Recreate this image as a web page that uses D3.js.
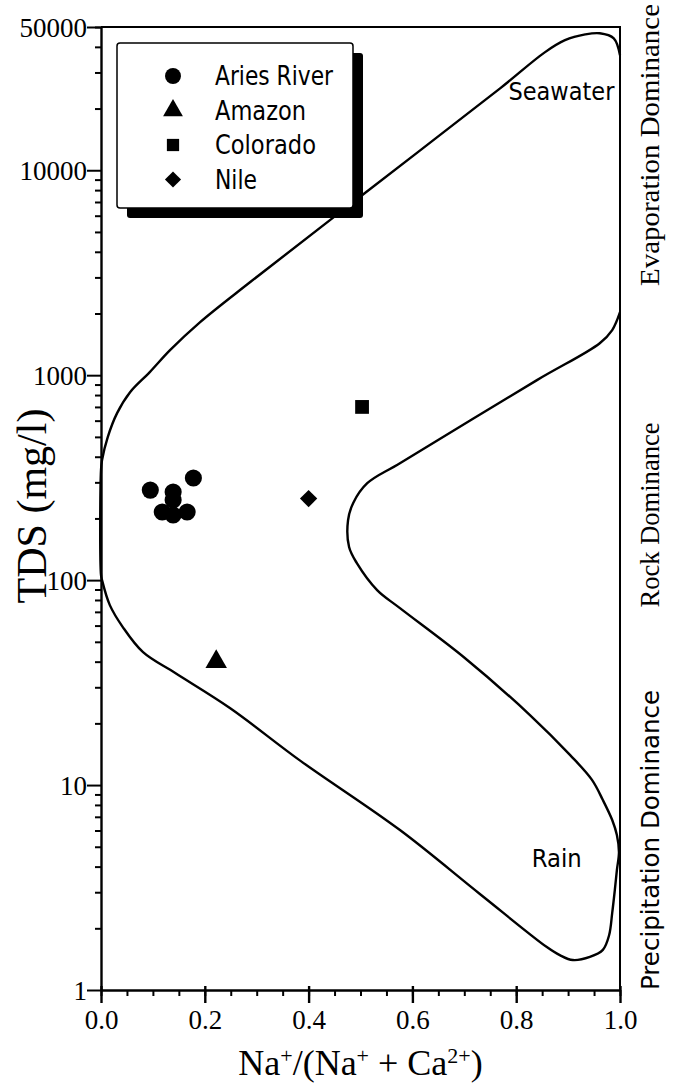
<!DOCTYPE html>
<html>
<head>
<meta charset="utf-8">
<script src="https://cdn.jsdelivr.net/npm/d3@7"></script>
<style>
  body { margin: 0; background: #fff; }
  svg { display: block; }
  .tick-label { font-family: "Liberation Serif", "Times New Roman", serif; font-size: 27px; fill: #000; }
  .serif { font-family: "Liberation Serif", "Times New Roman", serif; fill: #000; }
  .sans { font-family: "DejaVu Sans", sans-serif; fill: #000; }
</style>
</head>
<body>
<div id="chart"></div>
<script>
// river samples: Na/(Na+Ca) ratio and TDS (mg/l)
var ariesRatio = [0.095, 0.178, 0.139, 0.139, 0.118, 0.139, 0.166];
var ariesTDS = [275, 315, 269, 246, 215, 208, 215];
var amazonRatio = [0.222];
var amazonTDS = [40];
var coloradoRatio = [0.503];
var coloradoTDS = [700];
var nileRatio = [0.40];
var nileTDS = [250];

// boomerang boundary, traced from the top right, round the left side,
// down to the rain end and back up the inner edge
var boundaryRatio = [1.0, 0.988, 0.961, 0.933, 0.894, 0.855, 0.769, 0.503, 0.287, 0.191,
  0.133, 0.094, 0.056, 0.031, 0.013, 0.002, 0.0, 0.0, 0.002, 0.017, 0.042, 0.081, 0.143,
  0.249, 0.383, 0.576, 0.730, 0.859, 0.884, 0.909, 0.942, 0.967, 0.979, 0.985, 0.990,
  0.994, 0.998, 0.994, 0.985, 0.967, 0.946, 0.904, 0.827, 0.701, 0.576, 0.532, 0.493,
  0.478, 0.476, 0.486, 0.513, 0.576, 0.840, 0.961, 0.985, 1.0];
var boundaryTDS = [36400, 44000, 46600, 46000, 43100, 37600, 25100, 7550, 2840, 1815,
  1324, 1035, 826, 653, 499, 385, 344, 106, 100, 75.5, 59, 44.5, 35.2,
  23.7, 13.2, 6.03, 2.94, 1.62, 1.48, 1.40, 1.45, 1.57, 1.85, 2.38, 3.07,
  3.85, 4.71, 5.70, 6.75, 8.45, 10.6, 14.0, 21.9, 41.7, 73.0, 89.4, 121,
  145, 196, 238, 297, 372, 946, 1432, 1660, 2030];

var legendNames = ["Aries River", "Amazon", "Colorado", "Nile"];
var xTickValues = [0, 0.2, 0.4, 0.6, 0.8, 1.0];
var yTickValues = [1, 10, 100, 1000, 10000, 50000];

var svgWidth = 674;
var svgHeight = 1087;

var margin = { top: 27, right: 54, bottom: 97, left: 101 };
var width = svgWidth - margin.left - margin.right;
var height = svgHeight - margin.top - margin.bottom;

var svg = d3.select("#chart")
  .append("svg")
  .attr("width", svgWidth)
  .attr("height", svgHeight);

var chartGroup = svg.append("g")
  .attr("transform", `translate(${margin.left}, ${margin.top})`);

var xScale = d3.scaleLinear().domain([0, 1]).range([0, width]);
var yScale = d3.scaleLog().domain([1, 50000]).range([height, 0]);

// frame (top and right edges)
chartGroup.append("path")
  .attr("d", `M0,0H${width}V${height}`)
  .attr("fill", "none")
  .attr("stroke", "#000")
  .attr("stroke-width", 2);

// boundary curve
var boundary = boundaryRatio.map((r, i) => [r, boundaryTDS[i]]);
var line = d3.line()
  .x(d => xScale(d[0]))
  .y(d => yScale(d[1]))
  .curve(d3.curveCatmullRom.alpha(0.5));

chartGroup.append("path")
  .datum(boundary)
  .attr("d", line)
  .attr("fill", "none")
  .attr("stroke", "#000")
  .attr("stroke-width", 2.4);

// x axis with minor ticks every 0.05
var xMinor = d3.range(0, 21).map(i => i * 0.05);
chartGroup.append("g")
  .attr("transform", `translate(0, ${height})`)
  .call(d3.axisBottom(xScale).tickValues(xMinor).tickSize(6).tickFormat(""))
  .call(g => g.select(".domain").remove())
  .selectAll("line").attr("stroke-width", 2);

var xAxis = chartGroup.append("g")
  .attr("transform", `translate(0, ${height})`)
  .call(d3.axisBottom(xScale).tickValues(xTickValues).tickSize(13).tickSizeOuter(0)
    .tickFormat(d3.format(".1f")));
xAxis.select(".domain").attr("stroke-width", 2.4);
xAxis.selectAll("line").attr("stroke-width", 2.4).attr("y1", -4);
xAxis.selectAll("text")
  .attr("class", "tick-label")
  .attr("y", 20)
  .attr("dy", "0.71em");

// y axis with minor ticks at 2..9 of each decade
var yMinor = [];
[1, 10, 100, 1000, 10000].forEach(function(base) {
  d3.range(2, 10).forEach(function(k) {
    if (base * k <= 50000) yMinor.push(base * k);
  });
});
chartGroup.append("g")
  .call(d3.axisLeft(yScale).tickValues(yMinor).tickSize(6).tickFormat(""))
  .call(g => g.select(".domain").remove())
  .selectAll("line").attr("stroke-width", 2);

var yAxis = chartGroup.append("g")
  .call(d3.axisLeft(yScale).tickValues(yTickValues).tickSize(14).tickSizeOuter(0)
    .tickFormat(d3.format("d")));
yAxis.select(".domain").attr("stroke-width", 2.4);
yAxis.selectAll("line").attr("stroke-width", 2);
yAxis.selectAll("text")
  .attr("class", "tick-label")
  .attr("x", -14)
  .attr("dy", "0.34em");

// markers
function plotSeries(ratios, values, symbol, size, angle) {
  chartGroup.selectAll(null)
    .data(ratios.map((r, i) => [r, values[i]]))
    .enter()
    .append("path")
    .attr("transform", d => `translate(${xScale(d[0])}, ${yScale(d[1])}) rotate(${angle})`)
    .attr("d", d3.symbol().type(symbol).size(size))
    .attr("fill", "#000");
}
plotSeries(ariesRatio, ariesTDS, d3.symbolCircle, 230, 0);
plotSeries(amazonRatio, amazonTDS, d3.symbolTriangle, 200, 0);
plotSeries(coloradoRatio, coloradoTDS, d3.symbolSquare, 190, 0);
plotSeries(nileRatio, nileTDS, d3.symbolSquare, 150, 45);

// region labels inside the plot
chartGroup.append("text")
  .attr("class", "sans")
  .attr("x", xScale(0.785))
  .attr("y", yScale(22000))
  .attr("font-size", 25)
  .attr("textLength", 106)
  .attr("lengthAdjust", "spacingAndGlyphs")
  .text("Seawater");
chartGroup.append("text")
  .attr("class", "sans")
  .attr("x", xScale(0.83))
  .attr("y", yScale(4.0))
  .attr("font-size", 25)
  .attr("textLength", 50)
  .attr("lengthAdjust", "spacingAndGlyphs")
  .text("Rain");

// legend with drop shadow
var legend = svg.append("g").attr("transform", "translate(117, 43)");
legend.append("rect")
  .attr("x", 10).attr("y", 10)
  .attr("width", 236).attr("height", 165)
  .attr("rx", 3)
  .attr("fill", "#000");
legend.append("rect")
  .attr("width", 236).attr("height", 165)
  .attr("rx", 3)
  .attr("fill", "#fff")
  .attr("stroke", "#000")
  .attr("stroke-width", 1.5);

var legendSymbols = [d3.symbolCircle, d3.symbolTriangle, d3.symbolSquare, d3.symbolSquare];
var legendSizes = [200, 170, 150, 130];
var legendWidths = [118, 91, 101, 42];
legendNames.forEach(function(name, i) {
  var ly = 33 + i * 34.5;
  legend.append("path")
    .attr("transform", `translate(56, ${ly})` + (i === 3 ? " rotate(45)" : ""))
    .attr("d", d3.symbol().type(legendSymbols[i]).size(legendSizes[i]))
    .attr("fill", "#000");
  legend.append("text")
    .attr("class", "sans")
    .attr("x", 98)
    .attr("y", ly)
    .attr("dy", "0.36em")
    .attr("font-size", 26)
    .attr("textLength", legendWidths[i])
    .attr("lengthAdjust", "spacingAndGlyphs")
    .text(name);
});

// axis titles
svg.append("text")
  .attr("class", "serif")
  .attr("transform", `translate(46, ${margin.top + yScale(230)}) rotate(-90)`)
  .attr("text-anchor", "middle")
  .attr("font-size", 42)
  .text("TDS (mg/l)");

var xTitle = svg.append("text")
  .attr("class", "serif")
  .attr("x", margin.left + xScale(0.5))
  .attr("y", 1075)
  .attr("text-anchor", "middle")
  .attr("font-size", 36);
xTitle.append("tspan").text("Na");
xTitle.append("tspan").attr("font-size", 22).attr("dy", -12).text("+");
xTitle.append("tspan").attr("dy", 12).text("/(Na");
xTitle.append("tspan").attr("font-size", 22).attr("dy", -12).text("+");
xTitle.append("tspan").attr("dy", 12).text(" + Ca");
xTitle.append("tspan").attr("font-size", 22).attr("dy", -12).text("2+");
xTitle.append("tspan").attr("dy", 12).text(")");

// process labels down the right side
var sideX = margin.left + width + 39;
function sideLabel(text, cy, len, cls, size) {
  svg.append("text")
    .attr("class", cls)
    .attr("transform", `translate(${sideX}, ${cy}) rotate(-90)`)
    .attr("text-anchor", "middle")
    .attr("font-size", size)
    .attr("textLength", len)
    .attr("lengthAdjust", "spacingAndGlyphs")
    .text(text);
}
sideLabel("Evaporation Dominance", 145, 282, "serif", 28);
sideLabel("Rock Dominance", 515, 185, "serif", 28);
sideLabel("Precipitation Dominance", 840, 300, "sans", 25);
</script>
</body>
</html>
